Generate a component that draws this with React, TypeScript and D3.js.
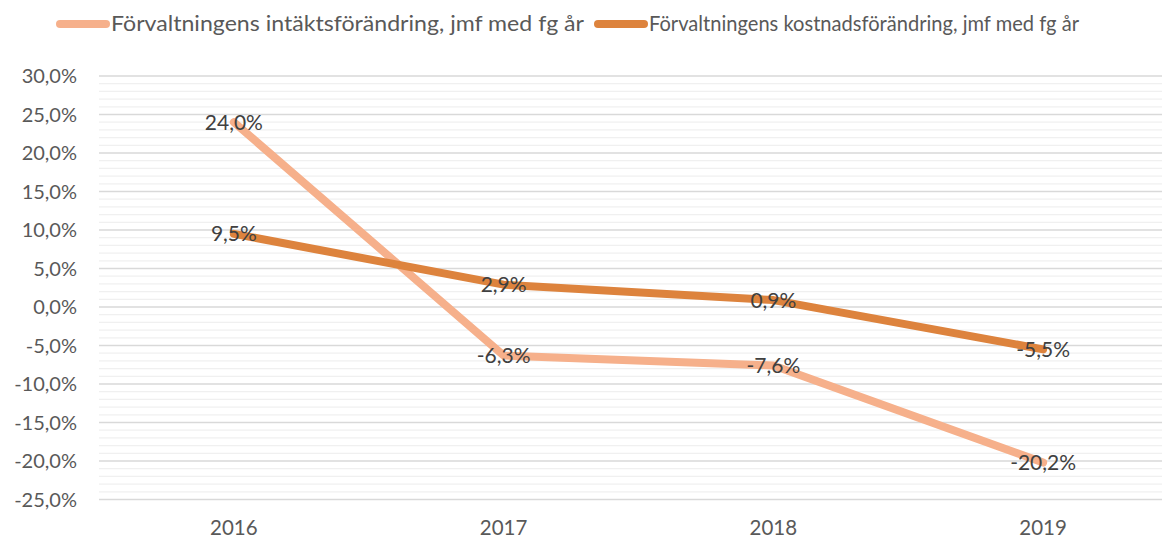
import React from 'react';
import * as d3 from 'd3';

const years = ['2016', '2017', '2018', '2019'];
const intakt = [24.0, -6.3, -7.6, -20.2];
const kostnad = [9.5, 2.9, 0.9, -5.5];
const seriesNames = [
  'Förvaltningens intäktsförändring, jmf med fg år',
  'Förvaltningens kostnadsförändring, jmf med fg år',
];
const yTicks = [30, 25, 20, 15, 10, 5, 0, -5, -10, -15, -20, -25];

const width = 1162;
const height = 539;
const margin = { top: 76, right: -16, bottom: 40, left: 99 };
const font = 'Lato, "Open Sans", sans-serif';

const sv = d3.formatLocale({
  decimal: ',',
  thousands: ' ',
  grouping: [3],
  currency: ['', ' kr'],
  minus: '-',
});
const fmt = (v: number) => sv.format('.1f')(v) + '%';

export default function App() {
  const x = d3
    .scaleBand()
    .domain(years)
    .range([margin.left, width - margin.right]);
  const y = d3.scaleLinear().domain([-25, 30]).range([499.5, margin.top]);
  const minor = d3.range(-25, 30, 1).filter(v => v % 5 !== 0);

  const line = d3
    .line<number>()
    .x((d, i) => x(years[i])! + x.bandwidth() / 2)
    .y(d => y(d));

  const series = [
    { name: seriesNames[0], values: intakt, color: '#F6B08B' },
    { name: seriesNames[1], values: kostnad, color: '#DD833D' },
  ];

  // legend positions and text widths
  const legendX = [58, 596];
  const legendW = [473, 430];

  return (
    <svg
      width={width}
      height={height}
      style={{ position: 'absolute', left: 0, top: 0, background: '#fff' }}
      fontFamily={font}>
      {minor.map(v => (
        <line
          key={'m' + v}
          x1={margin.left}
          x2={width}
          y1={y(v)}
          y2={y(v)}
          stroke='#F0F0F0'
          strokeWidth={1.3}
        />
      ))}
      {yTicks.map(v => (
        <g key={v}>
          <line
            x1={margin.left}
            x2={width}
            y1={y(v)}
            y2={y(v)}
            stroke='#D9D9D9'
            strokeWidth={1.3}
          />
          <text
            x={77}
            y={y(v)}
            dy='.36em'
            textAnchor='end'
            fontSize={20}
            fill='#595959'>
            {fmt(v)}
          </text>
        </g>
      ))}
      {years.map(yr => (
        <text
          key={yr}
          x={x(yr)! + x.bandwidth() / 2}
          y={535}
          textAnchor='middle'
          fontSize={20.5}
          fill='#595959'>
          {yr}
        </text>
      ))}
      {series.map(s => (
        <path
          key={s.name}
          d={line(s.values)!}
          fill='none'
          stroke={s.color}
          strokeWidth={8}
          strokeLinecap='round'
          strokeLinejoin='round'
        />
      ))}
      {series.map(s =>
        s.values.map((v, i) => (
          <text
            key={s.name + i}
            x={x(years[i])! + x.bandwidth() / 2}
            y={y(v)}
            dy='.36em'
            textAnchor='middle'
            fontSize={21}
            fill='#404040'>
            {fmt(v)}
          </text>
        ))
      )}
      {series.map((s, i) => (
        <g key={'lg' + i} transform={`translate(${legendX[i]}, 24)`}>
          <line
            x1={2}
            x2={48}
            y1={0}
            y2={0}
            stroke={s.color}
            strokeWidth={8}
            strokeLinecap='round'
          />
          <text
            x={53}
            y={7}
            fontSize={21}
            fill='#595959'
            textLength={legendW[i]}
            lengthAdjust='spacingAndGlyphs'>
            {s.name}
          </text>
        </g>
      ))}
    </svg>
  );
}
